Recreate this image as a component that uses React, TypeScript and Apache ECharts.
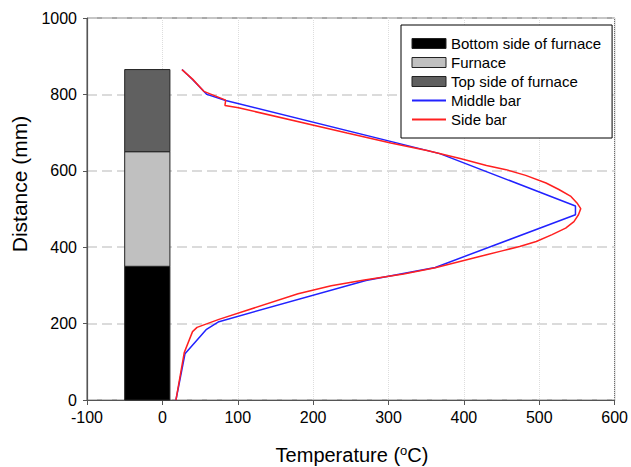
import React, { useEffect, useRef } from "react";
import * as echarts from "echarts";

// Furnace zones (stacked bar at the left)
const zoneNames = ["Bottom side of furnace", "Furnace", "Top side of furnace"];
const zoneBottoms = [0, 350, 650];
const zoneTops = [350, 650, 865];
const zoneColors = ["#000000", "#c0c0c0", "#606060"];
const zoneLeft = -50;
const zoneRight = 10;

// Middle bar temperature profile
const middleTemp = [18, 30, 58, 75, 270, 362, 548, 548, 368, 84, 59, 40, 26];
const middleDist = [0, 121, 184, 205, 313, 347, 485, 508, 645, 784, 800, 839, 865];

// Side bar temperature profile
const sideTemp = [18, 29, 40, 46, 75, 180, 224, 268, 320, 362, 430, 452, 474, 496, 517, 535, 546, 552, 555, 550, 542, 526, 509, 482, 456, 430, 395, 351, 303, 245, 101, 83, 84, 55, 40, 26];
const sideDist = [0, 124, 179, 190, 211, 278, 299, 314, 330, 346, 380, 391, 402, 415, 433, 450, 467, 485, 501, 516, 533, 551, 568, 588, 603, 614, 632, 653, 673, 699, 765, 771, 785, 808, 840, 865];

const xTicks = { min: -100, max: 600, interval: 100 };
const yTicks = { min: 0, max: 1000, interval: 200 };

const FONT = "'Liberation Sans', Arial, sans-serif";

export default function App() {
  const ref = useRef<HTMLDivElement>(null);
  useEffect(() => {
    if (!ref.current) return;
    const chart = echarts.init(ref.current, undefined, { renderer: "svg" });
    const zoneSeries = zoneNames.map((name, i) => ({
      name,
      type: "custom",
      data: [[zoneLeft, zoneRight, zoneBottoms[i], zoneTops[i]]],
      encode: { x: [0, 1], y: [2, 3] },
      itemStyle: { color: zoneColors[i], borderColor: "#222", borderWidth: 1 },
      renderItem: (params: any, api: any) => {
        const p0 = api.coord([api.value(0), api.value(3)]);
        const p1 = api.coord([api.value(1), api.value(2)]);
        return {
          type: "rect",
          shape: { x: p0[0], y: p0[1], width: p1[0] - p0[0], height: p1[1] - p0[1] },
          style: { fill: zoneColors[i], stroke: "#222", lineWidth: 1 },
        };
      },
      z: 2,
    }));
    const hiddenSymbol = { color: "rgba(0,0,0,0)", borderColor: "rgba(0,0,0,0)", borderWidth: 0 };
    const option: any = {
      animation: false,
      textStyle: { fontFamily: FONT },
      grid: {
        left: 87,
        right: 13,
        top: 18,
        bottom: 67,
        containLabel: false,
        show: true,
        borderColor: "#555",
        borderWidth: 1,
        backgroundColor: "transparent",
      },
      xAxis: {
        type: "value",
        ...xTicks,
        axisLine: { show: true, onZero: false, lineStyle: { color: "#555", width: 1.2 } },
        axisTick: { show: true, inside: false, length: 5, lineStyle: { color: "#555" } },
        axisLabel: { color: "#000", fontSize: 16, margin: 9, fontFamily: FONT, formatter: (v: number) => String(v) },
        splitLine: { show: true, lineStyle: { color: "#ddd", type: "dotted", width: 1 } },
      },
      yAxis: {
        type: "value",
        ...yTicks,
        axisLine: { show: true, onZero: false, lineStyle: { color: "#555", width: 1.2 } },
        axisTick: { show: true, inside: false, length: 4, lineStyle: { color: "#555" } },
        axisLabel: { color: "#000", fontSize: 16, margin: 10, fontFamily: FONT, formatter: (v: number) => String(v) },
        splitLine: { show: true, lineStyle: { color: "#d0d0d0", type: [10, 5], width: 1.5 } },
      },
      legend: {
        orient: "vertical",
        left: 401,
        top: 25,
        padding: [11, 11, 11, 10],
        itemWidth: 34,
        itemHeight: 10,
        itemGap: 4,
        borderColor: "#000",
        borderWidth: 1,
        backgroundColor: "#fff",
        textStyle: { fontSize: 15, color: "#000", fontFamily: FONT },
        data: [
          ...zoneNames.map((name, i) => ({
            name,
            icon: "rect",
            itemStyle: { color: zoneColors[i], borderColor: "#222", borderWidth: 1 },
          })),
          { name: "Middle bar", itemStyle: hiddenSymbol },
          { name: "Side bar", itemStyle: hiddenSymbol },
        ],
      },
      series: [
        ...zoneSeries,
        {
          name: "Middle bar",
          type: "line",
          symbol: "none",
          data: middleTemp.map((t, i) => [t, middleDist[i]]),
          lineStyle: { color: "#2222ff", width: 1.5 },
          itemStyle: { color: "#2222ff" },
          z: 3,
        },
        {
          name: "Side bar",
          type: "line",
          symbol: "none",
          data: sideTemp.map((t, i) => [t, sideDist[i]]),
          lineStyle: { color: "#ff2020", width: 1.5 },
          itemStyle: { color: "#ff2020" },
          z: 4,
        },
      ],
      graphic: [
        {
          type: "text",
          x: 352,
          y: 455,
          style: {
            text: "Temperature ({sup|o}C)",
            fontSize: 20,
            fontFamily: FONT,
            fill: "#000",
            align: "center",
            verticalAlign: "middle",
            rich: {
              sup: { fontSize: 13, fontFamily: FONT, fill: "#000", padding: [0, 0, 9, 0] },
            },
          },
        },
        {
          type: "text",
          x: 19,
          y: 184,
          rotation: Math.PI / 2,
          style: {
            text: "Distance (mm)",
            fontSize: 21,
            fontFamily: FONT,
            fill: "#000",
            align: "center",
            verticalAlign: "middle",
          },
        },
      ],
    };
    chart.setOption(option);
    return () => chart.dispose();
  }, []);
  return <div ref={ref} style={{ width: 631, height: 467, position: "absolute", left: 0, top: 0 }} />;
}
